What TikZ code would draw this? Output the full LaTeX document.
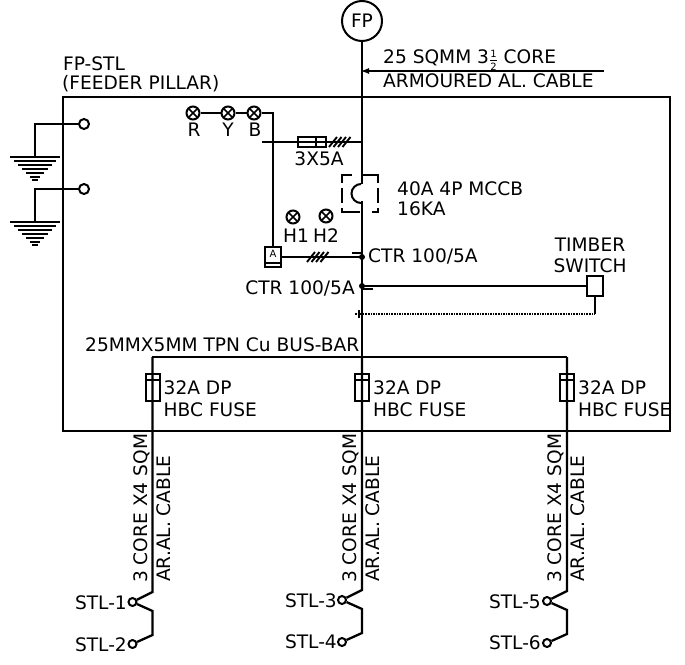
\documentclass[tikz,border=0pt]{standalone}
\usepackage{fontspec}
\setmainfont{DejaVu Sans}
\usetikzlibrary{arrows.meta}
\tikzset{
  lbl/.style={inner sep=0pt,font=\fontsize{18.6}{20}\selectfont,anchor=west},
  lblr/.style={lbl,anchor=east},
  lblc/.style={lbl,anchor=center},
  vlbl/.style={lbl,rotate=90},
  wire/.style={line width=2.3pt,line join=miter},
  term/.style={circle,draw,line width=2pt,inner sep=0pt,minimum size=#1,fill=none},
  lamp/.style={circle,draw,line width=2pt,inner sep=0pt,minimum size=13pt,
    path picture={\draw[line width=1.6pt] (path picture bounding box.south west)--(path picture bounding box.north east)
      (path picture bounding box.north west)--(path picture bounding box.south east);}},
  fuse/.style={rectangle,draw,line width=2pt,inner sep=0pt,minimum width=14pt,minimum height=27pt},
}
\newcommand{\myhalf}{\smash{\raisebox{-0.1ex}{${\mbox{\fontsize{10}{10}\selectfont 1}\over\mbox{\fontsize{10}{10}\selectfont 2}}$}}}
\newcommand{\slashes}[2]{\foreach \k in {0,4.5,9,13.5}{\draw[line width=1.9pt] (#1+\k-4,#2+5)--(#1+\k+4,#2-5);}}
\newcommand{\earth}[2]{%
  \foreach \w/\d in {25/0,21/4,17/8,13/12,9/16,5/20,3/23}{\draw[line width=2pt] (#1-\w,#2+\d)--(#1+\w,#2+\d);}}
\newcommand{\feeder}[3]{%
  % #1 x, #2 y of first terminal, #3 suffix
  \node[fuse] (f#3) at (#1,387.5) {};
  \coordinate (bus#3) at (#1,357);
  \coordinate (k#3a) at (#1,#2-10);
  \node[term=8pt] (t#3a) at (#1-20,#2) {};
  \coordinate (k#3b) at (#1,#2+9);
  \coordinate (k#3c) at (#1,#2+33);
  \node[term=8pt] (t#3b) at (#1-20,#2+42) {};
  \draw[wire] (bus#3)--(k#3a)--(t#3a);
  \draw[wire] (t#3a)--(k#3b)--(k#3c)--(t#3b);
  \draw[line width=1.8pt] (#1-7,380)--(#1+7,380);
  \node[lbl] at (#1+11,388) {32A DP};
  \node[lbl] at (#1+11,410) {HBC FUSE};
  \node[vlbl,anchor=west] at (#1-11,583) {3 CORE X4 SQM};
  \node[vlbl,anchor=west] at (#1+11,582) {AR.AL. CABLE};
}
\begin{document}
\begin{tikzpicture}[x=1pt,y=-1pt]
\useasboundingbox (0,0) rectangle (685,664);
% panel
\node[draw,line width=1.8pt,inner sep=0pt,minimum width=607pt,minimum height=334pt] (panel) at (366.5,264) {};
% main incomer
\node[circle,draw,line width=2pt,inner sep=0pt,minimum size=40pt,font=\fontsize{18.6}{20}\selectfont] (fp) at (362,21) {FP};
\coordinate (mccbtop) at (362,184);
\coordinate (mccbbot) at (362,201);
\coordinate (busm) at (362,357);
\draw[wire] (fp)--(mccbtop);
\draw[wire] (mccbbot)--(busm);
% cable arrow
\coordinate (cblend) at (604,71);
\coordinate (cblpt) at (360,71);
\draw[line width=1.8pt,-{Latex[length=9pt,width=6pt]}] (cblend)--(cblpt);
\node[lbl] at (383,58) {25 SQMM 3\myhalf\ CORE};
\node[lbl] at (383,81) {ARMOURED AL. CABLE};
\node[lbl] at (63,64) {FP-STL};
\node[lbl] at (62,84) {(FEEDER PILLAR)};
% MCCB
\draw[line width=2pt] (342,183)--(342,175)--(352,175) (362,175)--(378,175)--(378,183)
  (342,188)--(342,203) (378,188)--(378,203)
  (342,208)--(342,212)--(360,212) (372,212)--(378,212)--(378,208);
\draw[line width=2pt] (361,184) arc (270:90:9.5 and 9.5);
\node[lbl] at (397,189) {40A 4P MCCB};
\node[lbl] at (397,209) {16KA};
% lamps
\node[lamp] (lr) at (193,113) {};
\node[lamp] (ly) at (228,113) {};
\node[lamp] (lb) at (254,113) {};
\node[lblc] at (194,130) {R};
\node[lblc] at (228,130) {Y};
\node[lblc] at (255,130) {B};
\node[rectangle,draw,line width=2pt,inner sep=0pt,minimum width=16pt,minimum height=20pt,anchor=center] (amm) at (273,257) {};
\node[inner sep=0pt,font=\fontsize{10}{10}\selectfont] at (273,254) {A};
\draw[line width=1.5pt] (265,263)--(281,263);
\coordinate (lbc) at (273,113);
\draw[wire] (lr)--(ly) (ly)--(lb) (lb)--(lbc)--(amm);
% fuse branch
\coordinate (br1) at (262,142);
\coordinate (br2) at (362,142);
\draw[wire] (br1)--(br2);
\node[draw,line width=1.8pt,inner sep=0pt,minimum width=28pt,minimum height=10pt] (sf) at (312,142) {};
\draw[line width=1.8pt] (316,137)--(316,147);
\slashes{333}{142}
\node[lblc] at (319,159) {3X5A};
% indicators
\node[lamp] (h1) at (293,217) {};
\node[lamp] (h2) at (326,216) {};
\node[lblc] at (296,236) {H1};
\node[lblc] at (326,236) {H2};
% CT1
\coordinate (ct1) at (362,257);
\coordinate (ammr) at (281,257);
\draw[wire] (ammr)--(ct1);
\slashes{311}{257}
\draw[line width=1.8pt] (352,253)--(363,253);
\fill (ct1) circle (3pt);
\node[lbl] at (368,256) {CTR 100/5A};
% CT2
\node[rectangle,draw,line width=2.2pt,inner sep=0pt,minimum width=16pt,minimum height=20pt] (tsw) at (595,286) {};
\coordinate (ct2) at (362,286);
\draw[line width=2pt] (ct2)--(tsw);
\draw[line width=1.8pt] (362,289)--(373,289);
\fill (ct2) circle (3pt);
\node[lblr] at (355,288) {CTR 100/5A};
\node[lblc] at (590,245) {TIMBER};
\node[lblc] at (590,266) {SWITCH};
% dotted
\coordinate (dl) at (355,314);
\coordinate (dr) at (595,314);
\draw[line width=2pt,dash pattern=on 1.6pt off 1pt] (dl)--(dr);
\draw[line width=2pt] (dr)--(tsw);
\draw[line width=1.5pt] (359,310)--(359,318);
% bus bar
\coordinate (busl) at (152,357);
\coordinate (busr) at (567,357);
\draw[wire] (busl)--(busr);
\node[lbl] at (85,345) {25MMX5MM TPN Cu BUS-BAR};
% feeders
\feeder{152.5}{602}{L}
\feeder{362}{600}{M}
\feeder{567}{601}{R}
\node[lblr] at (127,603) {STL-1};
\node[lblr] at (127,645) {STL-2};
\node[lblr] at (337,601) {STL-3};
\node[lblr] at (337,642) {STL-4};
\node[lblr] at (541,602) {STL-5};
\node[lblr] at (541,643) {STL-6};
% earths
\node[term=10pt] (e1) at (84,124) {};
\node[term=10pt] (e2) at (84,189) {};
\coordinate (e1c) at (35,124);
\coordinate (e1g) at (35,157);
\coordinate (e2c) at (35,189);
\coordinate (e2g) at (35,222);
\draw[wire] (e1)--(e1c)--(e1g);
\draw[wire] (e2)--(e2c)--(e2g);
\earth{35}{157}
\earth{35}{222}
\end{tikzpicture}
\end{document}
